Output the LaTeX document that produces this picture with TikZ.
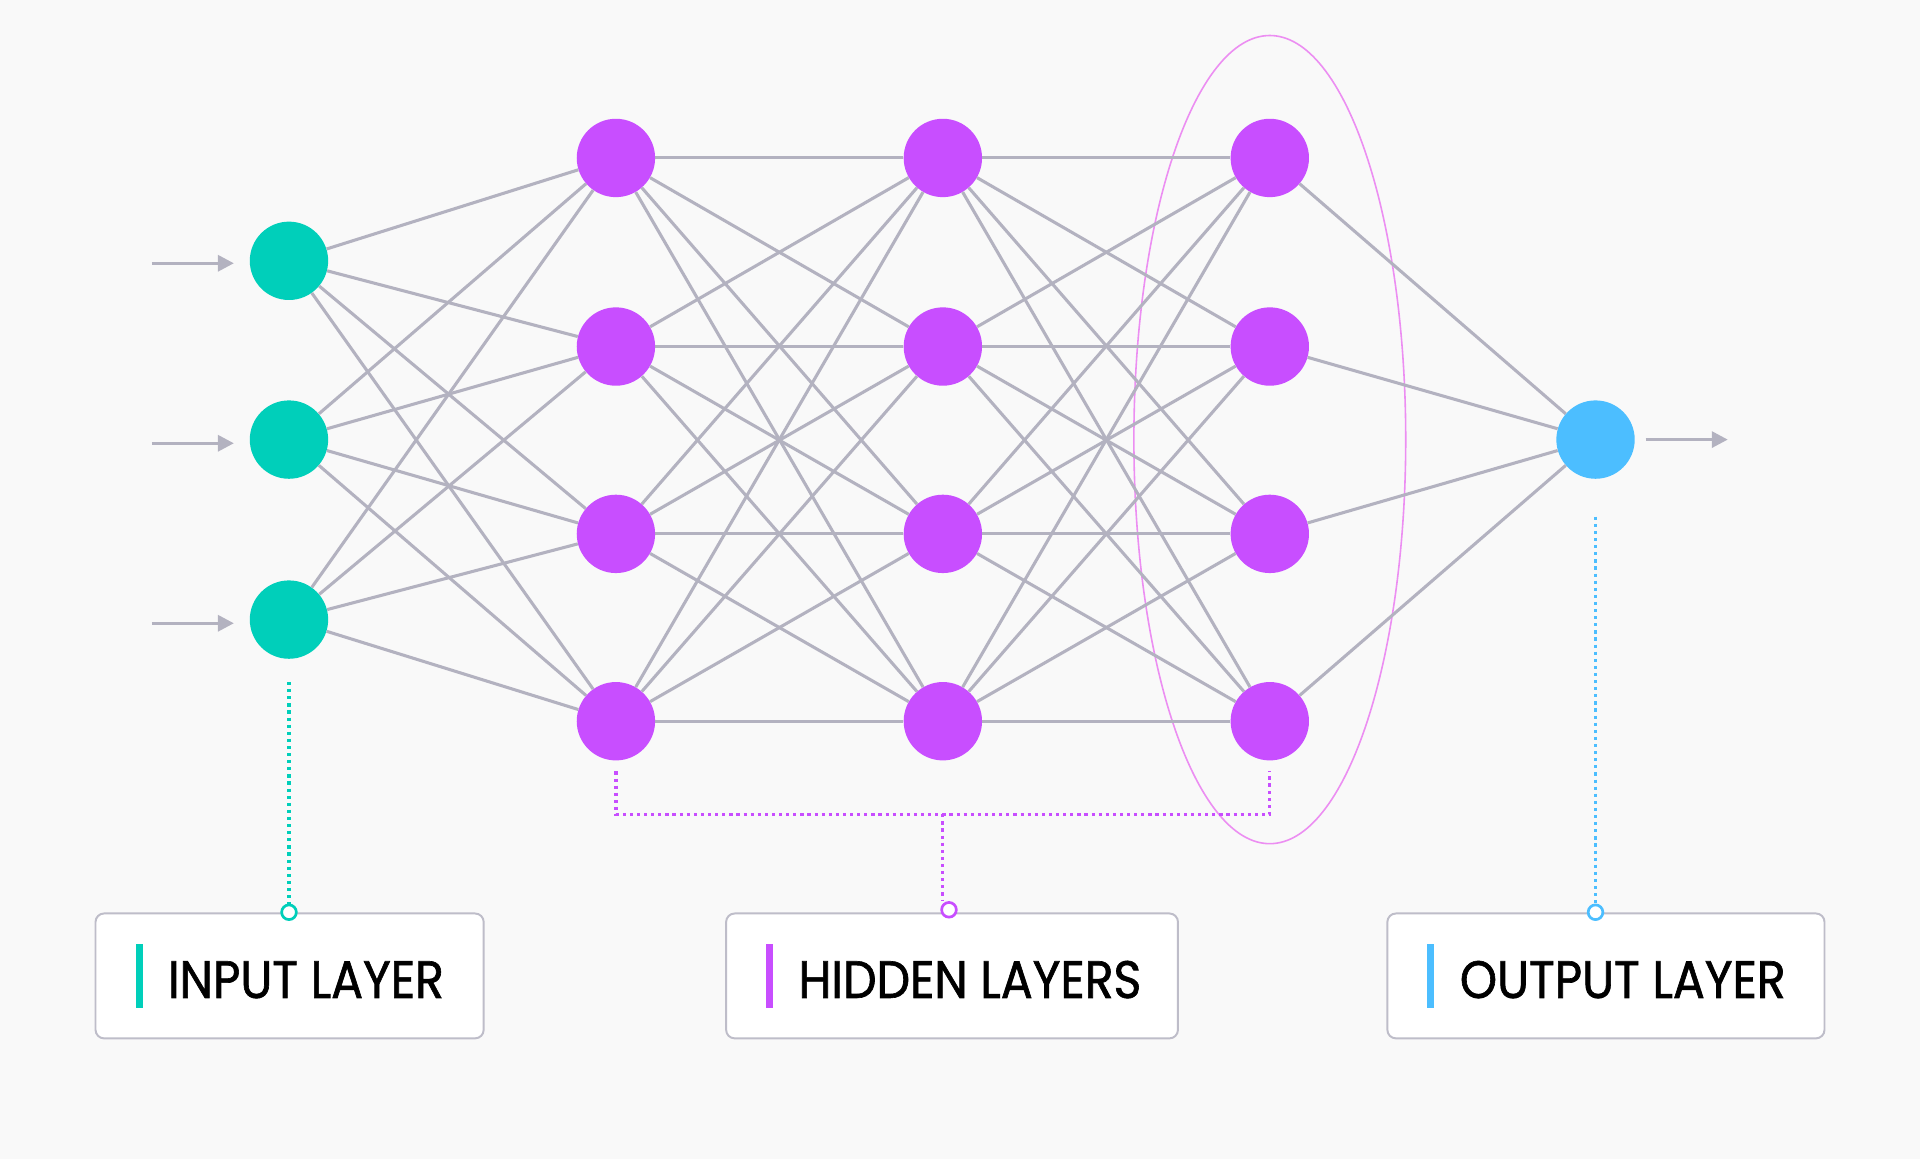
\documentclass[tikz,border=0pt]{standalone}
\usepackage{fontspec}
\setmainfont{Poppins}[FakeStretch=0.9,FakeBold=1.2]
\usetikzlibrary{arrows.meta}
\definecolor{bgc}{HTML}{F9F9F9}
\definecolor{inc}{HTML}{00CFBA}
\definecolor{hidc}{HTML}{C84EFF}
\definecolor{outc}{HTML}{4CBEFF}
\definecolor{edgec}{HTML}{B3B2C0}
\definecolor{ellc}{HTML}{EC8EF2}
\definecolor{boxc}{HTML}{BEBDC9}
\tikzset{
  neuron/.style={circle,minimum size=64pt,inner sep=0pt,draw=none},
  inneuron/.style={neuron,fill=inc},
  hidneuron/.style={neuron,fill=hidc},
  outneuron/.style={neuron,fill=outc},
  conn/.style={draw=edgec,line width=2.5pt},
  ioarrow/.style={draw=edgec,line width=2.6pt,-{Triangle[length=13pt,width=13pt]}},
  dotline/.style={line width=2.6pt,dash pattern=on 2.6pt off 3.2pt},
  endring/.style={circle,minimum size=12pt,inner sep=0pt,fill=white,line width=2.2pt},
  labelbox/.style={draw=boxc,line width=1.6pt,fill=white,rounded corners=7pt},
  labeltext/.style={anchor=base west,inner sep=0pt,font=\fontsize{43}{50}\selectfont,text=black},
}
\begin{document}
\begin{tikzpicture}[x=1pt,y=-1pt]
\fill[bgc] (0,0) rectangle (1568,946.5);
\useasboundingbox (0,0) rectangle (1568,946.5);

% ellipse around last hidden layer
\draw[ellc,line width=1.3pt] (1037,359) ellipse [x radius=111,y radius=330];

% nodes
\foreach \i/\y in {1/213,2/359,3/506}{\node[inneuron] (i\i) at (236,\y) {};}
\foreach \l/\x in {1/503,2/770,3/1037}{
  \foreach \j/\y in {1/129,2/283,3/436,4/589}{\node[hidneuron] (h\l\j) at (\x,\y) {};}
}
\node[outneuron] (o) at (1303,359) {};

% connections
\foreach \i in {1,2,3}{\foreach \j in {1,2,3,4}{\draw[conn] (i\i) -- (h1\j);}}
\foreach \a/\b in {1/2,2/3}{\foreach \i in {1,2,3,4}{\foreach \j in {1,2,3,4}{\draw[conn] (h\a\i) -- (h\b\j);}}}
\foreach \j in {1,2,3,4}{\draw[conn] (h3\j) -- (o);}

% input / output arrows
\foreach \i/\y in {1/215,2/362,3/509}{
  \coordinate (ia\i) at (124,\y);
  \coordinate (ib\i) at (191,\y);
  \draw[ioarrow] (ia\i) -- (ib\i);
}
\coordinate (oa) at (1344,359);
\coordinate (ob) at (1411,359);
\draw[ioarrow] (oa) -- (ob);

% label boxes
\node[labelbox,minimum width=317pt,minimum height=102pt,inner sep=0pt] (binput) at (236.5,797) {};
\node[labelbox,minimum width=369pt,minimum height=102pt,inner sep=0pt] (bhidden) at (777.5,797) {};
\node[labelbox,minimum width=357pt,minimum height=102pt,inner sep=0pt] (boutput) at (1311.5,797) {};

\fill[inc] (111,771) rectangle (116.5,823);
\fill[hidc] (625.5,771) rectangle (631,823);
\fill[outc] (1165.5,771) rectangle (1171,823);

\node[labeltext] (tinput) at (137,815) {INPUT LAYER};
\node[labeltext] (thidden) at (652,815) {HIDDEN LAYERS};
\node[labeltext] (toutput) at (1192,815) {OUTPUT LAYER};

% dotted leaders
\coordinate (ds) at (236,557);
\node[endring,draw=inc] (ri) at (236,745) {};
\draw[inc,dotline] (ds) -- (ri);

\coordinate (h1d) at (503,630);
\coordinate (h1c) at (503,665);
\coordinate (h3d) at (1037,630);
\coordinate (h3c) at (1037,665);
\coordinate (hm) at (770,665);
\coordinate (hme) at (770,736);
\draw[hidc,dotline] (h1d) -- (h1c) -- (h3c) -- (h3d);
\node[endring,draw=hidc] (rh) at (775,743) {};
\draw[hidc,dotline] (hm) -- (hme);

\coordinate (os) at (1303,422);
\node[endring,draw=outc] (ro) at (1303,745) {};
\draw[outc,dotline] (os) -- (ro);
\end{tikzpicture}
\end{document}
